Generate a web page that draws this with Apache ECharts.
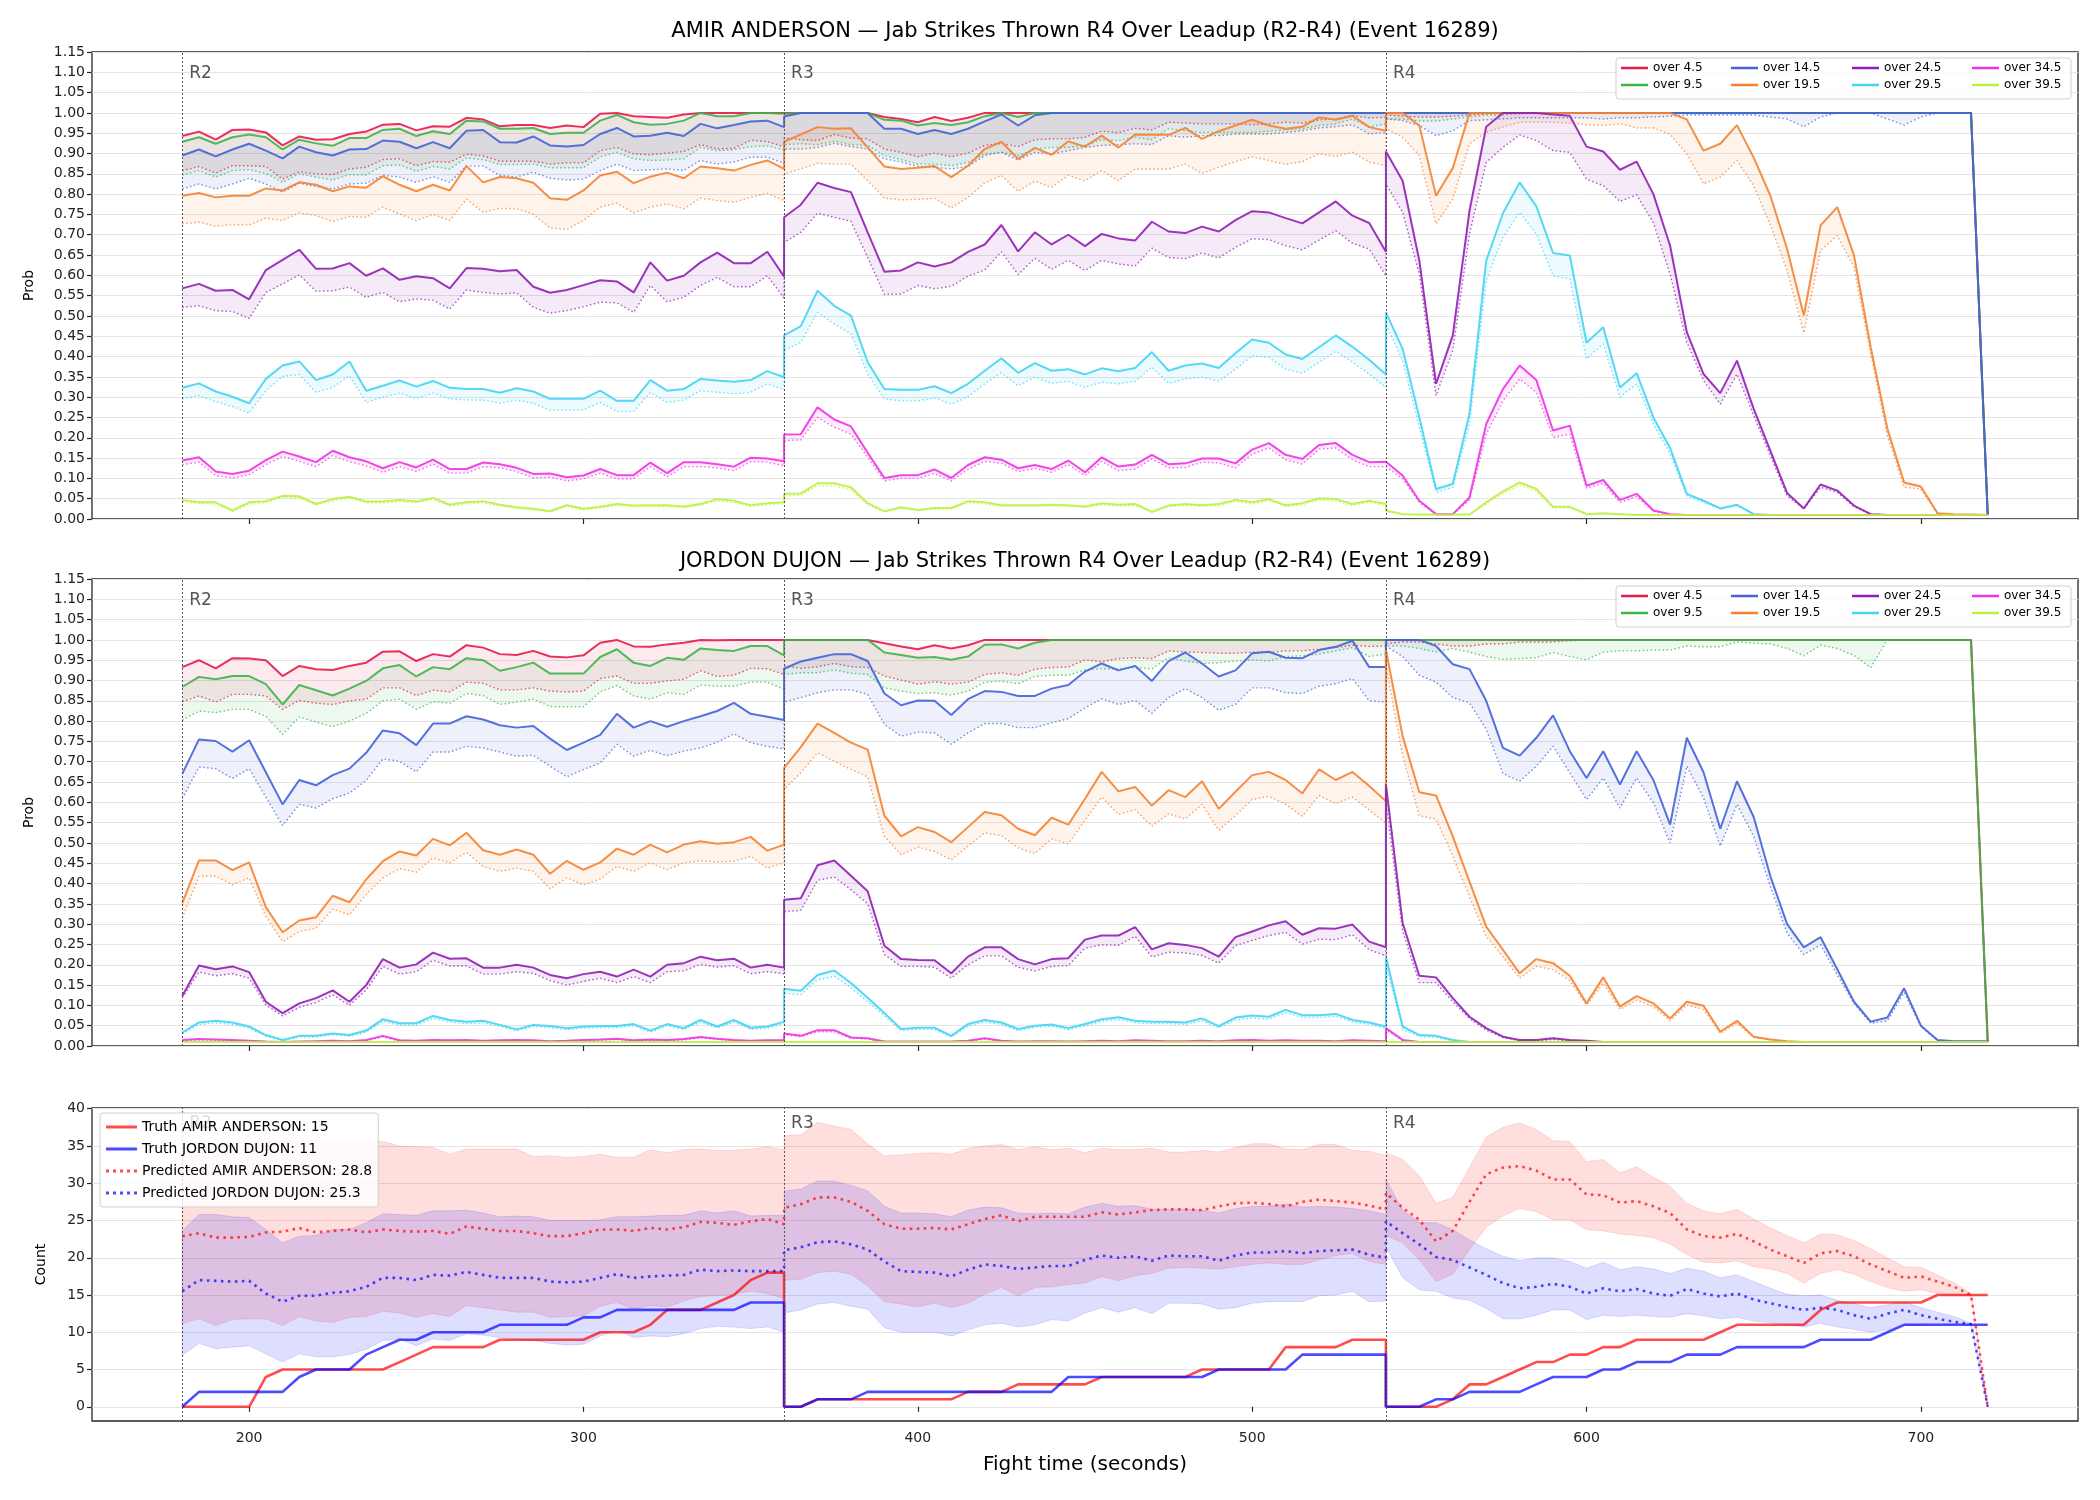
<!DOCTYPE html>
<html>
<head>
<meta charset="utf-8">
<script src="https://cdn.jsdelivr.net/npm/echarts@6/dist/echarts.min.js"></script>
<style>
html, body { margin: 0; padding: 0; background: #fff; }
#chart { width: 2100px; height: 1500px; }
</style>
</head>
<body>
<div id="chart"></div>
<script>
// time grid: every 5 s inside each round, rounds joined at 360 and 540
var roundStarts = [180, 360, 540];
var roundLabels = ['R2', 'R3', 'R4'];
var roundLength = 180, stepSec = 5;
var seconds = [];
roundStarts.forEach(function (s) {
	for (var t = s; t <= s + roundLength; t += stepSec) seconds.push(t);
});

var xTicks = [200, 300, 400, 500, 600, 700];
var countTicks = [0, 5, 10, 15, 20, 25, 30, 35, 40];
var lineNames = ['over 4.5', 'over 9.5', 'over 14.5', 'over 19.5', 'over 24.5', 'over 29.5', 'over 34.5', 'over 39.5'];
var lineColors = ['#e6194b', '#3cb44b', '#4363d8', '#f58231', '#911eb4', '#42d4f4', '#f032e6', '#bfef45'];

// ---- AMIR ANDERSON, solid lines ----
var amirOver4_5 = [
	0.943,0.954,0.934,0.958,0.959,0.952,0.920,0.942,0.934,0.935, 0.948,0.954,0.971,0.973,0.957,0.967,0.966,0.988,0.984,0.967, 0.970,0.970,0.963,0.969,0.965,0.998,1,0.992,0.990,0.988, 0.996,1,1,1,1,1,1,
	1,1,1,1,1,1,0.990,0.985,0.977,0.990, 0.980,0.988,1,1,1,1,1,1,1,1, 1,1,1,1,1,1,1,1,1,1, 1,1,1,1,1,1,1,
	1,1,1,1,1,1,1,1,1,1, 1,1,1,1,1,1,1,1,1,1, 1,1,1,1,1,1,1,1,1,1, 1,1,1,1,1,1,0.01
];
var amirOver9_5 = [
	0.929,0.940,0.924,0.940,0.947,0.940,0.910,0.934,0.925,0.919, 0.938,0.938,0.958,0.961,0.943,0.955,0.948,0.981,0.979,0.961, 0.961,0.963,0.948,0.951,0.951,0.981,0.995,0.977,0.971,0.973, 0.981,1,0.992,0.992,1,1,0.998,
	1,1,1,1,1,1,0.983,0.981,0.969,0.975, 0.970,0.977,0.992,1,0.990,1,1,1,1,1, 1,1,1,1,1,1,1,1,1,1, 1,1,1,1,1,1,1,
	1,1,1,1,1,1,1,1,1,1, 1,1,1,1,1,1,1,1,1,1, 1,1,1,1,1,1,1,1,1,1, 1,1,1,1,1,1,0.01
];
var amirOver14_5 = [
	0.895,0.910,0.893,0.910,0.924,0.907,0.888,0.917,0.903,0.895, 0.910,0.911,0.932,0.929,0.913,0.928,0.913,0.956,0.958,0.928, 0.927,0.942,0.920,0.917,0.921,0.948,0.963,0.942,0.944,0.951, 0.943,0.973,0.962,0.970,0.979,0.981,0.965,
	0.991,1,1,1,1,1,0.961,0.961,0.948,0.958, 0.948,0.961,0.979,0.996,0.969,0.994,1,1,1,1, 1,1,1,1,1,1,1,1,1,1, 1,1,1,1,1,1,1,
	1,1,1,1,1,1,1,1,1,1, 1,1,1,1,1,1,1,1,1,1, 1,1,1,1,1,1,1,1,1,1, 1,1,1,1,1,1,0.01
];
var amirOver19_5 = [
	0.796,0.803,0.792,0.796,0.796,0.814,0.809,0.829,0.823,0.807, 0.819,0.816,0.844,0.823,0.807,0.823,0.809,0.869,0.829,0.842, 0.839,0.828,0.790,0.786,0.809,0.846,0.855,0.827,0.843,0.853, 0.839,0.868,0.864,0.858,0.872,0.883,0.862,
	0.929,0.947,0.965,0.961,0.962,0.915,0.868,0.862,0.865,0.869, 0.842,0.870,0.911,0.929,0.887,0.914,0.897,0.930,0.917,0.944, 0.915,0.947,0.946,0.946,0.963,0.936,0.955,0.969,0.983,0.969, 0.961,0.966,0.989,0.983,0.993,0.965,0.956,
	1,1,0.969,0.796,0.864,1,1,1,1,1, 1,1,1,1,1,1,1,1,0.984,0.907, 0.924,0.970,0.890,0.796,0.665,0.501,0.723,0.768,0.649,0.423, 0.222,0.090,0.080,0.014,0.012,0.011,0.01
];
var amirOver24_5 = [
	0.568,0.579,0.562,0.564,0.541,0.613,0.638,0.663,0.616,0.617, 0.630,0.599,0.617,0.589,0.598,0.593,0.568,0.618,0.616,0.610, 0.613,0.572,0.557,0.564,0.576,0.588,0.585,0.558,0.632,0.587, 0.599,0.632,0.656,0.630,0.630,0.658,0.597,
	0.743,0.774,0.828,0.815,0.805,0.706,0.609,0.612,0.632,0.622, 0.632,0.658,0.676,0.724,0.659,0.706,0.676,0.700,0.672,0.702, 0.691,0.686,0.732,0.708,0.704,0.720,0.708,0.736,0.758,0.755, 0.741,0.728,0.755,0.782,0.747,0.729,0.658,
	0.905,0.833,0.636,0.333,0.452,0.759,0.966,1,1,1, 0.996,0.993,0.917,0.905,0.860,0.880,0.800,0.673,0.460,0.357, 0.310,0.390,0.271,0.168,0.064,0.026,0.085,0.070,0.033,0.012, 0.01,0.01,0.01,0.01,0.01,0.01,0.01
];
var amirOver29_5 = [
	0.323,0.334,0.314,0.301,0.285,0.345,0.378,0.388,0.342,0.356, 0.388,0.316,0.328,0.341,0.326,0.340,0.323,0.320,0.320,0.311, 0.322,0.314,0.296,0.296,0.296,0.316,0.291,0.291,0.342,0.316, 0.320,0.345,0.341,0.338,0.342,0.364,0.349,
	0.452,0.475,0.562,0.525,0.501,0.386,0.320,0.318,0.318,0.327, 0.310,0.333,0.365,0.396,0.360,0.384,0.365,0.369,0.356,0.371, 0.364,0.372,0.411,0.365,0.378,0.383,0.372,0.408,0.442,0.434, 0.405,0.394,0.423,0.452,0.424,0.392,0.356,
	0.509,0.419,0.250,0.074,0.086,0.259,0.636,0.753,0.829,0.770, 0.655,0.649,0.434,0.472,0.324,0.359,0.250,0.175,0.062,0.045, 0.026,0.035,0.012,0.01,0.01,0.01,0.01,0.01,0.01,0.01, 0.01,0.01,0.01,0.01,0.01,0.01,0.01
];
var amirOver34_5 = [
	0.144,0.152,0.117,0.111,0.119,0.145,0.166,0.154,0.140,0.168, 0.152,0.142,0.125,0.140,0.127,0.146,0.123,0.123,0.139,0.135, 0.126,0.111,0.112,0.103,0.107,0.123,0.108,0.108,0.139,0.113, 0.140,0.140,0.135,0.129,0.151,0.149,0.142,
	0.208,0.209,0.275,0.245,0.228,0.163,0.101,0.108,0.108,0.122, 0.101,0.133,0.152,0.146,0.125,0.133,0.123,0.144,0.115,0.152, 0.129,0.134,0.158,0.135,0.137,0.149,0.149,0.137,0.171,0.187, 0.158,0.148,0.182,0.187,0.158,0.140,0.141,
	0.140,0.107,0.045,0.012,0.012,0.053,0.234,0.320,0.378,0.342, 0.218,0.230,0.082,0.096,0.047,0.062,0.021,0.012,0.01,0.01, 0.01,0.01,0.01,0.01,0.01,0.01,0.01,0.01,0.01,0.01, 0.01,0.01,0.01,0.01,0.01,0.01,0.01
];
var amirOver39_5 = [
	0.047,0.041,0.041,0.021,0.041,0.044,0.057,0.056,0.037,0.049, 0.055,0.043,0.043,0.047,0.043,0.052,0.035,0.041,0.044,0.035, 0.029,0.025,0.019,0.034,0.025,0.030,0.037,0.033,0.034,0.034, 0.031,0.037,0.049,0.045,0.034,0.039,0.041,
	0.062,0.063,0.088,0.088,0.078,0.039,0.019,0.029,0.022,0.027, 0.027,0.044,0.041,0.034,0.034,0.034,0.035,0.034,0.031,0.039, 0.035,0.037,0.018,0.033,0.037,0.034,0.037,0.047,0.041,0.049, 0.034,0.039,0.051,0.049,0.037,0.045,0.037,
	0.021,0.012,0.011,0.011,0.011,0.011,0.041,0.068,0.090,0.074, 0.030,0.030,0.012,0.014,0.012,0.01,0.01,0.01,0.01,0.01, 0.01,0.01,0.01,0.01,0.01,0.01,0.01,0.01,0.01,0.01, 0.01,0.01,0.01,0.01,0.01,0.01,0.01
];

// ---- AMIR ANDERSON, dotted lines ----
var amirOver4_5Dot = [
	0.858,0.868,0.852,0.870,0.870,0.868,0.837,0.855,0.850,0.848, 0.862,0.866,0.885,0.887,0.870,0.880,0.879,0.898,0.894,0.881, 0.881,0.881,0.874,0.877,0.877,0.907,0.915,0.899,0.897,0.901, 0.905,0.922,0.911,0.913,0.933,0.929,0.917,
	0.938,0.934,0.932,0.947,0.938,0.936,0.911,0.903,0.892,0.901, 0.892,0.901,0.920,0.925,0.917,0.934,0.936,0.936,0.940,0.955, 0.951,0.962,0.958,0.977,0.975,0.973,0.973,0.973,0.971,0.973, 0.977,0.975,0.983,0.985,0.993,0.988,0.989,
	0.995,0.992,0.990,0.990,0.992,0.995,0.998,1,1,1, 1,1,1,1,1,1,1,1,1,1, 1,1,1,1,1,1,1,1,1,1, 1,1,1,1,1,1,0.01
];
var amirOver9_5Dot = [
	0.847,0.858,0.842,0.858,0.860,0.851,0.829,0.850,0.842,0.835, 0.848,0.847,0.870,0.872,0.856,0.868,0.862,0.889,0.885,0.873, 0.873,0.874,0.865,0.865,0.865,0.892,0.903,0.887,0.883,0.884, 0.887,0.915,0.907,0.909,0.917,0.919,0.909,
	0.922,0.924,0.922,0.930,0.922,0.920,0.895,0.885,0.874,0.874, 0.870,0.878,0.899,0.903,0.895,0.911,0.915,0.915,0.920,0.934, 0.932,0.940,0.934,0.961,0.956,0.952,0.952,0.952,0.952,0.955, 0.958,0.961,0.969,0.973,0.985,0.965,0.973,
	0.985,0.985,0.980,0.980,0.985,0.990,0.995,0.995,0.998,1, 1,1,1,1,1,1,1,1,1,1, 1,1,1,1,1,1,1,1,1,1, 1,1,1,1,1,1,0.01
];
var amirOver14_5Dot = [
	0.813,0.825,0.813,0.825,0.839,0.825,0.805,0.827,0.819,0.813, 0.825,0.827,0.846,0.842,0.829,0.843,0.829,0.869,0.869,0.846, 0.842,0.854,0.839,0.835,0.837,0.858,0.874,0.858,0.860,0.862, 0.858,0.883,0.874,0.879,0.891,0.891,0.876,
	0.911,0.911,0.915,0.925,0.917,0.911,0.887,0.879,0.868,0.866, 0.862,0.868,0.895,0.903,0.884,0.903,0.899,0.907,0.915,0.920, 0.922,0.924,0.922,0.944,0.940,0.944,0.944,0.948,0.948,0.948, 0.952,0.956,0.963,0.966,0.971,0.948,0.952,
	0.985,0.981,0.969,0.944,0.956,0.981,0.983,0.985,0.988,0.988, 0.988,0.988,0.988,0.985,0.988,0.988,0.990,0.992,0.995,0.995, 0.995,0.995,0.995,0.990,0.985,0.966,0.990,1,1,1, 0.985,0.970,0.990,1,1,1,0.01
];
var amirOver19_5Dot = [
	0.727,0.731,0.721,0.725,0.724,0.741,0.735,0.754,0.747,0.733, 0.745,0.743,0.768,0.751,0.735,0.750,0.735,0.788,0.755,0.765, 0.764,0.751,0.717,0.713,0.735,0.768,0.778,0.754,0.768,0.776, 0.764,0.790,0.784,0.780,0.792,0.802,0.784,
	0.850,0.862,0.876,0.874,0.874,0.833,0.790,0.786,0.787,0.790, 0.766,0.792,0.828,0.846,0.807,0.832,0.817,0.846,0.833,0.858, 0.833,0.862,0.862,0.862,0.874,0.851,0.866,0.880,0.892,0.883, 0.873,0.880,0.899,0.893,0.903,0.879,0.870,
	0.961,0.940,0.895,0.727,0.788,0.924,0.952,0.966,0.977,0.977, 0.977,0.975,0.971,0.969,0.973,0.963,0.963,0.947,0.899,0.825, 0.842,0.883,0.821,0.724,0.612,0.458,0.661,0.698,0.620,0.406, 0.205,0.078,0.074,0.012,0.01,0.01,0.01
];
var amirOver24_5Dot = [
	0.521,0.525,0.513,0.511,0.494,0.558,0.579,0.601,0.561,0.562, 0.571,0.546,0.558,0.535,0.542,0.539,0.517,0.564,0.558,0.554, 0.557,0.521,0.507,0.513,0.523,0.534,0.532,0.509,0.575,0.535, 0.546,0.575,0.595,0.572,0.572,0.599,0.544,
	0.681,0.706,0.753,0.743,0.733,0.644,0.553,0.554,0.575,0.567, 0.573,0.598,0.613,0.658,0.602,0.642,0.615,0.637,0.612,0.637, 0.628,0.623,0.667,0.644,0.641,0.655,0.643,0.669,0.690,0.688, 0.673,0.663,0.687,0.710,0.679,0.665,0.599,
	0.825,0.755,0.603,0.304,0.415,0.702,0.878,0.915,0.946,0.932, 0.907,0.903,0.837,0.821,0.782,0.798,0.730,0.603,0.435,0.341, 0.283,0.357,0.255,0.156,0.057,0.025,0.078,0.066,0.030,0.012, 0.01,0.01,0.01,0.01,0.01,0.01,0.01
];
var amirOver29_5Dot = [
	0.296,0.304,0.289,0.277,0.261,0.316,0.351,0.356,0.312,0.324, 0.353,0.287,0.300,0.310,0.297,0.310,0.296,0.293,0.293,0.285, 0.293,0.285,0.268,0.268,0.269,0.287,0.265,0.265,0.312,0.287, 0.293,0.316,0.312,0.308,0.312,0.333,0.318,
	0.415,0.435,0.509,0.480,0.456,0.357,0.296,0.291,0.291,0.298, 0.283,0.301,0.333,0.360,0.328,0.349,0.334,0.339,0.324,0.337, 0.333,0.339,0.374,0.334,0.345,0.349,0.339,0.369,0.402,0.398, 0.369,0.359,0.386,0.413,0.386,0.357,0.324,
	0.480,0.390,0.226,0.066,0.078,0.234,0.587,0.694,0.755,0.702, 0.599,0.591,0.394,0.431,0.300,0.333,0.234,0.160,0.057,0.041, 0.025,0.033,0.012,0.01,0.01,0.01,0.01,0.01,0.01,0.01, 0.01,0.01,0.01,0.01,0.01,0.01,0.01
];
var amirOver34_5Dot = [
	0.134,0.140,0.107,0.101,0.109,0.134,0.154,0.142,0.129,0.156, 0.141,0.131,0.115,0.129,0.117,0.135,0.113,0.113,0.129,0.126, 0.117,0.101,0.103,0.094,0.099,0.113,0.099,0.099,0.129,0.104, 0.129,0.129,0.126,0.119,0.141,0.140,0.131,
	0.193,0.195,0.250,0.226,0.209,0.152,0.094,0.100,0.100,0.112, 0.094,0.122,0.142,0.137,0.117,0.125,0.115,0.134,0.107,0.142, 0.119,0.123,0.148,0.126,0.127,0.140,0.138,0.126,0.160,0.175, 0.146,0.135,0.172,0.175,0.146,0.129,0.129,
	0.131,0.099,0.041,0.011,0.011,0.047,0.209,0.291,0.345,0.312, 0.201,0.209,0.076,0.088,0.041,0.055,0.019,0.011,0.01,0.01, 0.01,0.01,0.01,0.01,0.01,0.01,0.01,0.01,0.01,0.01, 0.01,0.01,0.01,0.01,0.01,0.01,0.01
];
var amirOver39_5Dot = [
	0.043,0.038,0.037,0.018,0.037,0.040,0.053,0.052,0.034,0.045, 0.051,0.040,0.039,0.043,0.040,0.048,0.032,0.037,0.040,0.032, 0.026,0.022,0.017,0.031,0.022,0.027,0.033,0.030,0.031,0.030, 0.028,0.034,0.045,0.041,0.031,0.035,0.037,
	0.057,0.058,0.082,0.082,0.072,0.035,0.017,0.026,0.020,0.024, 0.024,0.040,0.037,0.031,0.031,0.031,0.032,0.031,0.028,0.035, 0.032,0.033,0.016,0.030,0.033,0.031,0.033,0.043,0.037,0.045, 0.031,0.035,0.047,0.045,0.033,0.041,0.033,
	0.019,0.011,0.010,0.010,0.010,0.010,0.037,0.062,0.084,0.068, 0.027,0.027,0.011,0.012,0.011,0.01,0.01,0.01,0.01,0.01, 0.01,0.01,0.01,0.01,0.01,0.01,0.01,0.01,0.01,0.01, 0.01,0.01,0.01,0.01,0.01,0.01,0.01
];

// ---- JORDON DUJON, solid lines ----
var jordOver4_5 = [
	0.933,0.950,0.930,0.955,0.954,0.950,0.911,0.936,0.928,0.926, 0.936,0.944,0.971,0.972,0.948,0.965,0.959,0.987,0.981,0.965, 0.963,0.973,0.959,0.957,0.962,0.993,1,0.984,0.983,0.989, 0.993,1,0.999,1,1,1,1,
	1,1,1,1,1,1,0.992,0.984,0.977,0.987, 0.979,0.987,1,1,1,1,1,1,1,1, 1,1,1,1,1,1,1,1,1,1, 1,1,1,1,1,1,1,
	1,1,1,1,1,1,1,1,1,1, 1,1,1,1,1,1,1,1,1,1, 1,1,1,1,1,1,1,1,1,1, 1,1,1,1,1,1,0.01
];
var jordOver9_5 = [
	0.884,0.909,0.903,0.911,0.911,0.891,0.841,0.889,0.876,0.863, 0.880,0.899,0.930,0.938,0.910,0.933,0.928,0.955,0.950,0.924, 0.933,0.944,0.917,0.917,0.917,0.958,0.977,0.944,0.936,0.956, 0.951,0.979,0.975,0.973,0.985,0.985,0.962,
	1,1,1,1,1,1,0.969,0.963,0.956,0.958, 0.951,0.959,0.988,0.989,0.979,0.993,1,1,1,1, 1,1,1,1,1,1,1,1,1,1, 1,1,1,1,1,1,1,
	1,1,1,1,1,1,1,1,1,1, 1,1,1,1,1,1,1,1,1,1, 1,1,1,1,1,1,1,1,1,1, 1,1,1,1,1,1,0.01
];
var jordOver14_5 = [
	0.670,0.755,0.751,0.725,0.753,0.674,0.595,0.655,0.642,0.667, 0.683,0.722,0.777,0.770,0.741,0.794,0.794,0.812,0.804,0.790, 0.784,0.788,0.757,0.729,0.747,0.766,0.818,0.784,0.800,0.786, 0.800,0.812,0.825,0.845,0.818,0.811,0.803,
	0.929,0.947,0.956,0.965,0.965,0.948,0.868,0.839,0.851,0.850, 0.815,0.854,0.874,0.872,0.862,0.862,0.880,0.889,0.922,0.942, 0.925,0.936,0.899,0.948,0.969,0.942,0.910,0.925,0.967,0.971, 0.956,0.955,0.975,0.983,0.998,0.933,0.933,
	1,1,1,0.985,0.940,0.928,0.850,0.734,0.715,0.759, 0.814,0.726,0.660,0.726,0.644,0.726,0.655,0.545,0.759,0.674, 0.535,0.652,0.564,0.418,0.300,0.243,0.268,0.189,0.109,0.060, 0.070,0.142,0.050,0.015,0.012,0.012,0.012
];
var jordOver19_5 = [
	0.352,0.457,0.457,0.433,0.452,0.342,0.280,0.309,0.317,0.370, 0.354,0.410,0.455,0.479,0.469,0.510,0.494,0.525,0.482,0.471, 0.484,0.471,0.424,0.456,0.434,0.452,0.486,0.471,0.496,0.477, 0.496,0.504,0.498,0.502,0.515,0.481,0.496,
	0.685,0.736,0.794,0.771,0.747,0.730,0.567,0.516,0.539,0.527, 0.502,0.539,0.576,0.568,0.535,0.519,0.562,0.545,0.609,0.675, 0.627,0.638,0.592,0.630,0.613,0.652,0.584,0.626,0.667,0.675, 0.655,0.622,0.681,0.655,0.675,0.640,0.603,
	0.975,0.763,0.625,0.617,0.516,0.405,0.294,0.237,0.179,0.214, 0.204,0.173,0.105,0.169,0.097,0.123,0.105,0.068,0.109,0.099, 0.035,0.062,0.023,0.016,0.012,0.01,0.01,0.01,0.01,0.01, 0.01,0.01,0.01,0.01,0.01,0.01,0.01
];
var jordOver24_5 = [
	0.123,0.198,0.189,0.196,0.182,0.109,0.081,0.105,0.118,0.137, 0.109,0.150,0.214,0.193,0.201,0.230,0.215,0.216,0.193,0.193, 0.200,0.193,0.175,0.167,0.177,0.183,0.171,0.188,0.171,0.200, 0.204,0.220,0.211,0.215,0.193,0.200,0.193,
	0.360,0.364,0.445,0.457,0.419,0.381,0.247,0.214,0.212,0.211, 0.179,0.220,0.243,0.243,0.214,0.201,0.214,0.216,0.262,0.272, 0.272,0.293,0.238,0.253,0.249,0.241,0.220,0.268,0.282,0.297, 0.307,0.274,0.290,0.289,0.299,0.257,0.243,
	0.644,0.303,0.173,0.169,0.118,0.072,0.044,0.023,0.015,0.015, 0.019,0.015,0.013,0.01,0.01,0.01,0.01,0.01,0.01,0.01, 0.01,0.01,0.01,0.01,0.01,0.01,0.01,0.01,0.01,0.01, 0.01,0.01,0.01,0.01,0.01,0.01,0.01
];
var jordOver29_5 = [
	0.033,0.058,0.062,0.058,0.048,0.027,0.015,0.025,0.025,0.031, 0.027,0.038,0.066,0.056,0.056,0.074,0.064,0.060,0.062,0.052, 0.041,0.052,0.049,0.044,0.048,0.049,0.049,0.054,0.038,0.054, 0.044,0.064,0.048,0.064,0.045,0.048,0.060,
	0.141,0.136,0.175,0.186,0.155,0.119,0.081,0.042,0.045,0.045, 0.025,0.054,0.064,0.058,0.042,0.050,0.053,0.044,0.054,0.066, 0.071,0.062,0.060,0.060,0.058,0.068,0.049,0.070,0.075,0.072, 0.089,0.076,0.076,0.079,0.064,0.058,0.048,
	0.220,0.048,0.027,0.025,0.015,0.01,0.01,0.01,0.01,0.01, 0.01,0.01,0.01,0.01,0.01,0.01,0.01,0.01,0.01,0.01, 0.01,0.01,0.01,0.01,0.01,0.01,0.01,0.01,0.01,0.01, 0.01,0.01,0.01,0.01,0.01,0.01,0.01
];
var jordOver34_5 = [
	0.015,0.017,0.016,0.015,0.013,0.011,0.010,0.011,0.012,0.013, 0.012,0.015,0.025,0.014,0.013,0.015,0.014,0.015,0.013,0.014, 0.015,0.014,0.012,0.013,0.015,0.016,0.018,0.014,0.016,0.015, 0.017,0.022,0.018,0.015,0.013,0.014,0.015,
	0.031,0.025,0.039,0.039,0.021,0.019,0.011,0.011,0.011,0.011, 0.011,0.013,0.019,0.013,0.011,0.012,0.012,0.011,0.012,0.013, 0.012,0.014,0.013,0.012,0.012,0.013,0.012,0.014,0.015,0.013, 0.014,0.013,0.013,0.012,0.014,0.013,0.012,
	0.044,0.015,0.01,0.01,0.01,0.01,0.01,0.01,0.01,0.01, 0.01,0.01,0.01,0.01,0.01,0.01,0.01,0.01,0.01,0.01, 0.01,0.01,0.01,0.01,0.01,0.01,0.01,0.01,0.01,0.01, 0.01,0.01,0.01,0.01,0.01,0.01,0.01
];
var jordOver39_5 = [
	0.01,0.01,0.01,0.01,0.01,0.01,0.01,0.01,0.01,0.01, 0.01,0.01,0.01,0.01,0.01,0.01,0.01,0.01,0.01,0.01, 0.01,0.01,0.01,0.01,0.01,0.01,0.01,0.01,0.01,0.01, 0.01,0.01,0.01,0.01,0.01,0.01,0.01,
	0.01,0.01,0.01,0.01,0.01,0.01,0.01,0.01,0.01,0.01, 0.01,0.01,0.01,0.01,0.01,0.01,0.01,0.01,0.01,0.01, 0.01,0.01,0.01,0.01,0.01,0.01,0.01,0.01,0.01,0.01, 0.01,0.01,0.01,0.01,0.01,0.01,0.01,
	0.01,0.01,0.01,0.01,0.01,0.01,0.01,0.01,0.01,0.01, 0.01,0.01,0.01,0.01,0.01,0.01,0.01,0.01,0.01,0.01, 0.01,0.01,0.01,0.01,0.01,0.01,0.01,0.01,0.01,0.01, 0.01,0.01,0.01,0.01,0.01,0.01,0.01
];

// ---- JORDON DUJON, dotted lines ----
var jordOver4_5Dot = [
	0.848,0.862,0.847,0.866,0.866,0.862,0.829,0.851,0.844,0.841, 0.850,0.854,0.882,0.882,0.863,0.876,0.872,0.896,0.893,0.877, 0.877,0.882,0.874,0.872,0.874,0.905,0.911,0.893,0.893,0.899, 0.903,0.924,0.910,0.913,0.930,0.929,0.915,
	0.936,0.930,0.934,0.942,0.934,0.932,0.911,0.901,0.891,0.897, 0.891,0.896,0.915,0.919,0.913,0.928,0.932,0.933,0.951,0.946, 0.954,0.956,0.954,0.973,0.970,0.969,0.967,0.967,0.970,0.969, 0.973,0.973,0.977,0.981,0.987,0.984,0.985,
	0.990,0.995,0.995,0.990,0.985,0.985,0.990,0.990,0.995,0.995, 0.995,0.998,1,1,1,1,1,1,1,1, 1,1,1,1,1,1,1,1,1,1, 1,1,1,1,1,1,0.01
];
var jordOver9_5Dot = [
	0.802,0.825,0.821,0.829,0.829,0.812,0.767,0.810,0.798,0.786, 0.800,0.819,0.850,0.854,0.829,0.848,0.844,0.868,0.863,0.841, 0.847,0.854,0.836,0.835,0.835,0.872,0.888,0.862,0.854,0.870, 0.866,0.889,0.886,0.886,0.896,0.896,0.878,
	0.915,0.919,0.919,0.926,0.918,0.915,0.882,0.874,0.868,0.870, 0.864,0.874,0.896,0.898,0.892,0.910,0.913,0.913,0.926,0.929, 0.929,0.932,0.929,0.956,0.948,0.942,0.944,0.948,0.951,0.948, 0.959,0.961,0.965,0.973,0.981,0.959,0.965,
	0.985,0.985,0.979,0.970,0.979,0.970,0.959,0.952,0.954,0.956, 0.969,0.959,0.951,0.970,0.973,0.973,0.975,0.975,0.985,0.983, 0.983,0.995,0.992,0.990,0.979,0.961,0.987,0.979,0.962,0.932, 1,1,1,1,1,1,0.01
];
var jordOver14_5Dot = [
	0.609,0.687,0.683,0.659,0.683,0.613,0.543,0.595,0.586,0.609, 0.623,0.654,0.707,0.701,0.675,0.724,0.724,0.738,0.734,0.724, 0.714,0.716,0.689,0.663,0.681,0.697,0.743,0.714,0.728,0.715, 0.726,0.734,0.748,0.769,0.747,0.738,0.732,
	0.847,0.858,0.870,0.877,0.877,0.866,0.792,0.763,0.773,0.771, 0.743,0.771,0.794,0.794,0.784,0.784,0.796,0.806,0.833,0.855, 0.841,0.851,0.819,0.858,0.880,0.858,0.827,0.841,0.882,0.882, 0.870,0.868,0.886,0.892,0.905,0.850,0.847,
	0.985,0.959,0.913,0.896,0.858,0.845,0.780,0.671,0.652,0.689, 0.738,0.673,0.607,0.660,0.586,0.660,0.599,0.500,0.689,0.611, 0.492,0.595,0.516,0.393,0.278,0.225,0.249,0.175,0.105,0.056, 0.062,0.132,0.048,0.013,0.012,0.012,0.012
];
var jordOver19_5Dot = [
	0.315,0.418,0.418,0.397,0.414,0.319,0.257,0.282,0.290,0.337, 0.323,0.373,0.414,0.437,0.428,0.463,0.451,0.477,0.442,0.430, 0.438,0.430,0.387,0.414,0.397,0.411,0.442,0.430,0.451,0.434, 0.451,0.456,0.453,0.455,0.467,0.438,0.451,
	0.632,0.673,0.722,0.701,0.681,0.663,0.516,0.471,0.490,0.479, 0.459,0.492,0.525,0.518,0.488,0.474,0.510,0.498,0.556,0.613, 0.570,0.582,0.541,0.572,0.559,0.595,0.531,0.567,0.607,0.615, 0.595,0.566,0.617,0.597,0.613,0.581,0.549,
	0.936,0.714,0.567,0.559,0.467,0.368,0.270,0.220,0.167,0.196, 0.188,0.161,0.101,0.155,0.090,0.113,0.097,0.062,0.101,0.090, 0.031,0.056,0.021,0.015,0.012,0.01,0.01,0.01,0.01,0.01, 0.01,0.01,0.01,0.01,0.01,0.01,0.01
];
var jordOver24_5Dot = [
	0.119,0.182,0.173,0.178,0.167,0.101,0.074,0.095,0.107,0.126, 0.100,0.138,0.196,0.177,0.183,0.211,0.197,0.197,0.177,0.177, 0.183,0.179,0.161,0.150,0.159,0.167,0.156,0.171,0.156,0.183, 0.185,0.201,0.194,0.198,0.178,0.183,0.178,
	0.331,0.334,0.408,0.416,0.385,0.350,0.225,0.196,0.196,0.194, 0.167,0.200,0.222,0.222,0.194,0.185,0.196,0.198,0.241,0.249, 0.248,0.270,0.219,0.231,0.229,0.223,0.204,0.247,0.260,0.272, 0.280,0.251,0.263,0.262,0.274,0.237,0.222,
	0.599,0.282,0.156,0.156,0.109,0.068,0.039,0.021,0.013,0.013, 0.016,0.013,0.012,0.01,0.01,0.01,0.01,0.01,0.01,0.01, 0.01,0.01,0.01,0.01,0.01,0.01,0.01,0.01,0.01,0.01, 0.01,0.01,0.01,0.01,0.01,0.01,0.01
];
var jordOver29_5Dot = [
	0.030,0.053,0.057,0.053,0.044,0.024,0.013,0.022,0.022,0.028, 0.024,0.034,0.061,0.051,0.051,0.068,0.059,0.055,0.057,0.048, 0.037,0.048,0.045,0.040,0.044,0.045,0.045,0.050,0.034,0.050, 0.040,0.059,0.044,0.059,0.041,0.044,0.055,
	0.130,0.126,0.163,0.172,0.143,0.109,0.074,0.038,0.041,0.041, 0.022,0.049,0.059,0.053,0.038,0.046,0.049,0.040,0.049,0.061, 0.065,0.057,0.055,0.055,0.053,0.062,0.045,0.064,0.069,0.066, 0.082,0.070,0.070,0.073,0.059,0.053,0.044,
	0.200,0.041,0.023,0.021,0.013,0.01,0.01,0.01,0.01,0.01, 0.01,0.01,0.01,0.01,0.01,0.01,0.01,0.01,0.01,0.01, 0.01,0.01,0.01,0.01,0.01,0.01,0.01,0.01,0.01,0.01, 0.01,0.01,0.01,0.01,0.01,0.01,0.01
];
var jordOver34_5Dot = [
	0.013,0.015,0.014,0.013,0.012,0.010,0.010,0.010,0.011,0.012, 0.011,0.013,0.022,0.012,0.012,0.013,0.012,0.013,0.012,0.012, 0.013,0.012,0.011,0.012,0.013,0.014,0.016,0.012,0.014,0.013, 0.015,0.020,0.016,0.013,0.012,0.012,0.013,
	0.028,0.023,0.035,0.035,0.019,0.017,0.010,0.010,0.010,0.010, 0.010,0.012,0.017,0.012,0.010,0.011,0.011,0.010,0.011,0.012, 0.011,0.012,0.012,0.011,0.011,0.012,0.011,0.012,0.013,0.012, 0.012,0.012,0.012,0.011,0.012,0.012,0.011,
	0.040,0.013,0.01,0.01,0.01,0.01,0.01,0.01,0.01,0.01, 0.01,0.01,0.01,0.01,0.01,0.01,0.01,0.01,0.01,0.01, 0.01,0.01,0.01,0.01,0.01,0.01,0.01,0.01,0.01,0.01, 0.01,0.01,0.01,0.01,0.01,0.01,0.01
];
var jordOver39_5Dot = [
	0.01,0.01,0.01,0.01,0.01,0.01,0.01,0.01,0.01,0.01, 0.01,0.01,0.01,0.01,0.01,0.01,0.01,0.01,0.01,0.01, 0.01,0.01,0.01,0.01,0.01,0.01,0.01,0.01,0.01,0.01, 0.01,0.01,0.01,0.01,0.01,0.01,0.01,
	0.01,0.01,0.01,0.01,0.01,0.01,0.01,0.01,0.01,0.01, 0.01,0.01,0.01,0.01,0.01,0.01,0.01,0.01,0.01,0.01, 0.01,0.01,0.01,0.01,0.01,0.01,0.01,0.01,0.01,0.01, 0.01,0.01,0.01,0.01,0.01,0.01,0.01,
	0.01,0.01,0.01,0.01,0.01,0.01,0.01,0.01,0.01,0.01, 0.01,0.01,0.01,0.01,0.01,0.01,0.01,0.01,0.01,0.01, 0.01,0.01,0.01,0.01,0.01,0.01,0.01,0.01,0.01,0.01, 0.01,0.01,0.01,0.01,0.01,0.01,0.01
];

// ---- counts panel ----
var truthAmir = [
	0,0,0,0,0,4,5,5,5,5, 5,5,5,6,7,8,8,8,8,9, 9,9,9,9,9,10,10,10,11,13, 13,13,14,15,17,18,18,
	0,0,1,1,1,1,1,1,1,1, 1,2,2,2,3,3,3,3,3,4, 4,4,4,4,4,5,5,5,5,5, 8,8,8,8,9,9,9,
	0,0,0,0,1,3,3,4,5,6, 6,7,7,8,8,9,9,9,9,9, 10,11,11,11,11,11,13,14,14,14, 14,14,14,15,15,15,15
];
var truthJordon = [
	0,2,2,2,2,2,2,4,5,5, 5,7,8,9,9,10,10,10,10,11, 11,11,11,11,12,12,13,13,13,13, 13,13,13,13,14,14,14,
	0,0,1,1,1,2,2,2,2,2, 2,2,2,2,2,2,2,4,4,4, 4,4,4,4,4,4,5,5,5,5, 5,7,7,7,7,7,7,
	0,0,0,1,1,2,2,2,2,3, 4,4,4,5,5,6,6,6,7,7, 7,8,8,8,8,8,9,9,9,9, 10,11,11,11,11,11,11
];
var predAmir = [
	22.9,23.3,22.7,22.7,22.8,23.4,23.5,24.0,23.4,23.6, 23.8,23.4,23.8,23.6,23.5,23.6,23.2,24.2,23.9,23.6, 23.6,23.3,22.9,22.9,23.3,23.8,23.8,23.6,24.0,23.8, 24.1,24.8,24.7,24.4,24.9,25.2,24.5,
	26.7,27.2,28.1,28.1,27.5,26.3,24.5,23.9,23.9,24.0, 23.8,24.5,25.2,25.7,24.9,25.5,25.5,25.5,25.5,26.1, 25.8,26.1,26.4,26.5,26.5,26.4,26.9,27.3,27.4,27.2, 26.9,27.5,27.8,27.6,27.4,27.0,26.5,
	28.7,26.7,25.1,22.2,23.6,27.5,31.2,32.1,32.3,31.7, 30.5,30.5,28.5,28.4,27.4,27.6,26.9,26.0,23.8,22.9, 22.7,23.2,22.2,21.1,20.2,19.3,20.6,20.9,20.2,19.1, 18.2,17.3,17.5,16.8,16.1,15.0,0
];
var predJordon = [
	15.5,17.0,16.9,16.8,16.9,15.2,14.1,14.9,14.9,15.3, 15.5,16.1,17.3,17.3,17.0,17.7,17.6,18.1,17.7,17.3, 17.3,17.3,16.8,16.7,16.8,17.3,17.8,17.3,17.5,17.6, 17.7,18.4,18.2,18.3,18.2,18.2,18.2,
	21.0,21.4,22.1,22.2,21.8,21.1,19.5,18.2,18.1,18.0, 17.5,18.4,19.1,18.9,18.5,18.7,18.9,18.9,19.7,20.3, 20.0,20.2,19.6,20.3,20.2,20.2,19.6,20.3,20.7,20.7, 20.9,20.6,20.9,21.0,21.1,20.4,20.0,
	24.9,23.3,21.8,20.1,19.7,18.7,17.7,16.6,15.9,16.1, 16.5,16.1,15.2,15.9,15.5,15.8,15.2,14.9,15.8,15.2, 14.8,15.2,14.4,13.9,13.4,13.0,13.3,13.0,12.3,11.8, 12.5,13.0,12.3,11.8,11.4,11.1,0
];
var amirUpper = [
	34.0,34.5,35.0,35.3,35.5,35.5,35.8,35.6,35.8,35.5, 35.8,35.8,35.6,35.0,34.9,34.8,33.9,34.6,34.6,34.6, 34.6,33.6,33.7,33.5,33.6,33.9,33.5,33.5,34.5,34.1, 34.5,34.6,34.4,34.4,34.6,34.9,34.5,
	36.4,36.5,38.2,37.7,37.2,35.3,33.7,33.8,34.0,34.1, 33.9,34.7,35.0,35.2,34.5,34.9,34.5,34.7,34.1,34.7, 34.5,34.5,34.7,34.2,34.2,34.4,34.2,34.8,35.3,35.3, 34.6,34.5,35.2,35.2,34.4,34.3,33.7,
	34.1,33.2,31.0,27.3,28.1,32.1,36.2,37.5,38.1,37.2, 35.7,35.6,32.9,33.2,31.4,32.2,30.8,29.6,27.3,26.3, 25.9,26.5,25.2,24.0,23.0,22.0,23.2,23.1,22.3,21.2, 20.0,18.8,18.7,17.7,16.6,15.2,0
];
var amirLower = [
	11.2,11.8,10.9,11.7,11.8,11.8,10.9,12.1,11.5,11.3, 12.0,12.1,12.8,12.6,12.0,12.5,12.1,13.6,13.3,13.0, 12.7,12.7,12.0,12.1,12.2,13.5,14.0,13.1,13.6,13.4, 14.2,14.8,14.9,15.1,15.5,15.2,14.5,
	17.0,17.1,18.0,18.2,17.8,16.2,14.1,13.8,13.4,13.9, 13.3,13.9,15.1,16.0,14.9,16.0,16.1,16.4,16.6,17.5, 16.9,17.6,17.9,18.6,18.7,18.6,18.5,18.8,19.1,19.3, 19.1,19.1,19.7,20.3,20.6,19.5,19.1,
	23.0,22.0,19.7,16.8,17.8,21.1,24.1,25.6,26.6,26.2, 25.1,25.1,23.8,23.6,23.2,23.0,22.7,21.8,20.4,19.4, 19.3,19.6,18.8,18.5,17.9,16.6,17.9,18.4,17.8,16.8, 16.0,15.5,15.7,15.2,15.0,14.9,0
];
var jordonUpper = [
	23.6,25.8,25.8,25.5,25.4,23.8,22.0,22.9,23.0,23.8, 23.8,24.7,25.9,25.8,25.7,26.3,26.3,26.4,26.0,25.5, 25.6,25.5,25.0,25.0,25.0,25.1,25.5,25.5,25.6,25.7, 25.7,26.3,26.0,26.3,25.6,25.7,25.7,
	29.0,29.2,30.3,30.3,29.7,29.0,26.9,26.0,26.0,25.9, 25.5,26.4,26.8,26.7,26.0,25.9,26.0,25.9,26.8,27.3, 26.9,27.0,26.5,26.5,26.5,26.4,26.0,26.6,26.9,26.9, 27.2,26.8,26.9,26.8,26.6,26.3,25.8,
	30.5,26.4,24.7,24.7,23.8,22.4,21.2,20.2,19.6,20.0, 20.0,19.5,18.6,19.4,18.4,18.8,18.5,17.9,18.6,18.2, 17.3,17.7,16.8,15.9,15.1,14.9,15.0,14.3,13.9,13.3, 13.7,14.1,13.3,12.7,12.1,11.2,0
];
var jordonLower = [
	6.9,8.5,7.8,8.0,8.2,7.1,6.0,7.1,6.7,6.7, 7.0,7.7,8.9,9.1,8.2,9.1,8.9,9.8,9.6,9.3, 9.0,8.9,8.5,8.3,8.4,9.5,10.3,9.3,9.5,9.4, 9.8,10.5,10.8,10.7,10.5,10.7,10.0,
	12.6,13.0,13.8,14.0,13.5,13.1,10.6,10.0,10.0,10.0, 9.5,10.3,11.0,11.2,10.7,11.0,11.7,11.5,12.6,13.3, 12.7,13.3,12.5,13.9,13.9,13.8,13.1,13.3,13.9,14.1, 14.1,14.1,14.9,15.0,15.5,14.1,14.2,
	21.5,17.3,15.7,15.5,14.6,14.3,13.2,11.8,11.8,12.3, 13.0,13.0,11.7,12.3,12.1,12.3,12.1,12.0,12.5,12.2, 11.8,12.0,11.5,11.3,11.0,10.7,11.2,10.7,10.4,10.0, 10.3,11.0,11.0,11.2,11.1,11.1,0
];
var predAmirFinal = 28.8, predJordonFinal = 25.3;

var amirSolid = [amirOver4_5, amirOver9_5, amirOver14_5, amirOver19_5, amirOver24_5, amirOver29_5, amirOver34_5, amirOver39_5];
var amirDotted = [amirOver4_5Dot, amirOver9_5Dot, amirOver14_5Dot, amirOver19_5Dot, amirOver24_5Dot, amirOver29_5Dot, amirOver34_5Dot, amirOver39_5Dot];
var jordSolid = [jordOver4_5, jordOver9_5, jordOver14_5, jordOver19_5, jordOver24_5, jordOver29_5, jordOver34_5, jordOver39_5];
var jordDotted = [jordOver4_5Dot, jordOver9_5Dot, jordOver14_5Dot, jordOver19_5Dot, jordOver24_5Dot, jordOver29_5Dot, jordOver34_5Dot, jordOver39_5Dot];

var FONT = 'DejaVu Sans';
var gridTops = [52, 579, 1108];
var gridHeights = [467, 467, 313];
var labelOffsets = [22, 22, 16];
var legendBoxTops = [58, 586];
var legendColumnsX = [1621, 1731, 1852, 1972];
var DOTTED_ICON = 'path://M0 0h3v3h-3zM7 0h3v3h-3zM14 0h3v3h-3zM21 0h3v3h-3zM28 0h3v3h-3z';

function pairs(arr) {
	return seconds.map(function(t, i) { return [t, arr[i]]; });
}

function hexToRgba(hex, a) {
	var n = parseInt(hex.slice(1), 16);
	return 'rgba(' + (n >> 16 & 255) + ',' + (n >> 8 & 255) + ',' + (n & 255) + ',' + a + ')';
}

function band(p, upper, lower, fill, edge) {
	return {
		type: 'custom',
		xAxisIndex: p,
		yAxisIndex: p,
		silent: true,
		z: 1,
		data: [[seconds[0], lower[0]]],
		renderItem: function(params, api) {
			var pts = [];
			for (var i = 0; i < seconds.length; i++) pts.push(api.coord([seconds[i], upper[i]]));
			for (var j = seconds.length - 1; j >= 0; j--) pts.push(api.coord([seconds[j], lower[j]]));
			return {
				type: 'polygon',
				shape: { points: pts },
				style: { fill: fill, stroke: edge || null, lineWidth: edge ? 1 : 0 }
			};
		}
	};
}

function roundMarks() {
	return {
		silent: true,
		symbol: ['none', 'none'],
		label: { show: false },
		lineStyle: { color: '#555', type: [2, 2], width: 1 },
		data: roundStarts.map(function(s) { return { xAxis: s }; })
	};
}

var series = [];
[amirSolid, jordSolid].forEach(function(solid, p) {
	var dotted = p === 0 ? amirDotted : jordDotted;
	for (var k = 0; k < lineNames.length; k++) {
		series.push(band(p, solid[k], dotted[k], hexToRgba(lineColors[k], 0.09)));
	}
	for (var k2 = 0; k2 < lineNames.length; k2++) {
		var s = {
			type: 'line',
			name: lineNames[k2],
			xAxisIndex: p,
			yAxisIndex: p,
			data: pairs(solid[k2]),
			symbol: 'none',
			color: lineColors[k2],
			lineStyle: { width: 2, color: hexToRgba(lineColors[k2], 0.9) },
			z: 3,
			silent: true
		};
		if (k2 === 0) s.markLine = roundMarks();
		series.push(s);
		series.push({
			type: 'line',
			name: lineNames[k2] + ' dotted',
			xAxisIndex: p,
			yAxisIndex: p,
			data: pairs(dotted[k2]),
			symbol: 'none',
			color: lineColors[k2],
			lineStyle: { width: 1.4, type: [1.5, 2.5], color: hexToRgba(lineColors[k2], 0.75) },
			z: 2,
			silent: true
		});
	}
});

var truthAmirName = 'Truth AMIR ANDERSON: ' + truthAmir[truthAmir.length - 1];
var truthJordonName = 'Truth JORDON DUJON: ' + truthJordon[truthJordon.length - 1];
var predAmirName = 'Predicted AMIR ANDERSON: ' + predAmirFinal;
var predJordonName = 'Predicted JORDON DUJON: ' + predJordonFinal;

series.push(band(2, amirUpper, amirLower, 'rgba(255,0,0,0.13)', 'rgba(255,0,0,0.12)'));
series.push(band(2, jordonUpper, jordonLower, 'rgba(0,0,255,0.13)', 'rgba(0,0,255,0.12)'));
series.push({
	type: 'line', name: truthAmirName, xAxisIndex: 2, yAxisIndex: 2, data: pairs(truthAmir),
	symbol: 'none', color: 'rgba(255,0,0,0.7)', lineStyle: { width: 2.6, color: 'rgba(255,0,0,0.7)' },
	z: 3, silent: true, markLine: roundMarks()
});
series.push({
	type: 'line', name: truthJordonName, xAxisIndex: 2, yAxisIndex: 2, data: pairs(truthJordon),
	symbol: 'none', color: 'rgba(0,0,255,0.7)', lineStyle: { width: 2.6, color: 'rgba(0,0,255,0.7)' },
	z: 3, silent: true
});
series.push({
	type: 'line', name: predAmirName, xAxisIndex: 2, yAxisIndex: 2, data: pairs(predAmir),
	symbol: 'none', color: 'rgba(255,0,0,0.7)', lineStyle: { width: 2.6, type: [2.6, 4.4], color: 'rgba(255,0,0,0.7)' },
	z: 3, silent: true
});
series.push({
	type: 'line', name: predJordonName, xAxisIndex: 2, yAxisIndex: 2, data: pairs(predJordon),
	symbol: 'none', color: 'rgba(0,0,255,0.7)', lineStyle: { width: 2.6, type: [2.6, 4.4], color: 'rgba(0,0,255,0.7)' },
	z: 3, silent: true
});

var grids = [], xAxes = [], yAxes = [];
for (var p = 0; p < 3; p++) {
	grids.push({
		left: 92, width: 1986, top: gridTops[p], height: gridHeights[p],
		show: true, borderColor: '#262626', borderWidth: 1.3, backgroundColor: 'transparent'
	});
	xAxes.push({
		type: 'value', gridIndex: p, min: 153, max: 747,
		axisLine: { show: false },
		splitLine: { show: false },
		axisTick: { show: true, length: 5, customValues: xTicks, lineStyle: { color: '#262626', width: 1.2 } },
		axisLabel: { show: p === 2, customValues: xTicks, fontSize: 14, color: '#222', margin: 10, fontFamily: FONT },
		name: p === 2 ? 'Fight time (seconds)' : '',
		nameLocation: 'middle', nameGap: 34,
		nameTextStyle: { fontSize: 20, color: '#000', fontFamily: FONT }
	});
	var yTick = { show: true, length: 5, lineStyle: { color: '#262626', width: 1.2 } };
	var ySplit = { show: true, lineStyle: { color: '#e4e4e4', width: 1 } };
	if (p < 2) {
		yAxes.push({
			type: 'value', gridIndex: p, min: 0, max: 1.15, interval: 0.05,
			axisLine: { show: false }, axisTick: yTick, splitLine: ySplit,
			axisLabel: { fontSize: 14, color: '#222', margin: 7, fontFamily: FONT,
				formatter: function(v) { return v.toFixed(2); } },
			name: 'Prob', nameLocation: 'middle', nameGap: 56,
			nameTextStyle: { fontSize: 14, color: '#000', fontFamily: FONT }
		});
	} else {
		yAxes.push({
			type: 'value', gridIndex: p, min: -1.91, max: 40.1,
			axisLine: { show: false },
			axisTick: { show: true, length: 5, customValues: countTicks, lineStyle: { color: '#262626', width: 1.2 } },
			splitLine: ySplit,
			axisLabel: { customValues: countTicks, fontSize: 14, color: '#222', margin: 7, fontFamily: FONT },
			name: 'Count', nameLocation: 'middle', nameGap: 44,
			nameTextStyle: { fontSize: 14, color: '#000', fontFamily: FONT }
		});
	}
}

// threshold legends: four columns of two, matplotlib style (column-major)
var legends = [];
legendBoxTops.forEach(function(boxTop) {
	legendColumnsX.forEach(function(x, c) {
		legends.push({
			data: [lineNames[c * 2], lineNames[c * 2 + 1]].map(function(n) { return { name: n, icon: 'rect' }; }),
			left: x, top: boxTop + 4, orient: 'vertical',
			itemWidth: 27, itemHeight: 2.5, itemGap: 5, padding: 0, z: 6,
			textStyle: { fontSize: 12, color: '#000', fontFamily: FONT },
			selectedMode: false
		});
	});
});
legends.push({
	data: [
		{ name: truthAmirName, icon: 'rect' },
		{ name: truthJordonName, icon: 'rect' },
		{ name: predAmirName, icon: DOTTED_ICON },
		{ name: predJordonName, icon: DOTTED_ICON }
	],
	left: 100, top: 1113, orient: 'vertical',
	itemWidth: 31, itemHeight: 3, itemGap: 8, z: 6,
	textStyle: { fontSize: 14, color: '#000', fontFamily: FONT },
	backgroundColor: 'rgba(255,255,255,0.8)', borderColor: '#cfcfcf', borderWidth: 1, borderRadius: 3,
	padding: [7, 6, 7, 6], selectedMode: false
});

var option = {
	animation: false,
	backgroundColor: '#fff',
	textStyle: { fontFamily: FONT },
	title: [{
		text: 'AMIR ANDERSON — Jab Strikes Thrown R4 Over Leadup (R2-R4) (Event 16289)',
		left: 1085, top: 21, textAlign: 'center', padding: 0,
		textStyle: { fontSize: 21, fontWeight: 'normal', color: '#000', fontFamily: FONT }
	}, {
		text: 'JORDON DUJON — Jab Strikes Thrown R4 Over Leadup (R2-R4) (Event 16289)',
		left: 1085, top: 551, textAlign: 'center', padding: 0,
		textStyle: { fontSize: 21, fontWeight: 'normal', color: '#000', fontFamily: FONT }
	}],
	legend: legends,
	grid: grids,
	xAxis: xAxes,
	yAxis: yAxes,
	series: series
};

var chart = echarts.init(document.getElementById('chart'));
chart.setOption(option);

// round names next to the dotted round lines, and boxes behind the threshold legends
var marks = [];
for (var g = 0; g < 3; g++) {
	roundStarts.forEach(function(s, r) {
		var px = chart.convertToPixel({ xAxisIndex: g }, s);
		marks.push({
			type: 'text', x: px + 7, y: gridTops[g] + labelOffsets[g], z: 2,
			style: { text: roundLabels[r], fill: '#555', font: '17px "DejaVu Sans"', align: 'left', verticalAlign: 'middle' }
		});
	});
}
legendBoxTops.forEach(function(boxTop) {
	marks.push({
		type: 'rect', z: 5,
		shape: { x: 1616, y: boxTop, width: 455, height: 41, r: 3 },
		style: { fill: 'rgba(255,255,255,0.8)', stroke: '#cfcfcf', lineWidth: 1 }
	});
});
chart.setOption({ graphic: marks });

var allArrays = amirSolid.concat(amirDotted, jordSolid, jordDotted,
	[truthAmir, truthJordon, predAmir, predJordon, amirUpper, amirLower, jordonUpper, jordonLower]);
var bad = [];
allArrays.forEach(function(a, i) { if (a.length !== seconds.length) bad.push(i + ':' + a.length); });
if (bad.length) throw new Error('length mismatch ' + bad.join(','));
</script>
</body>
</html>
